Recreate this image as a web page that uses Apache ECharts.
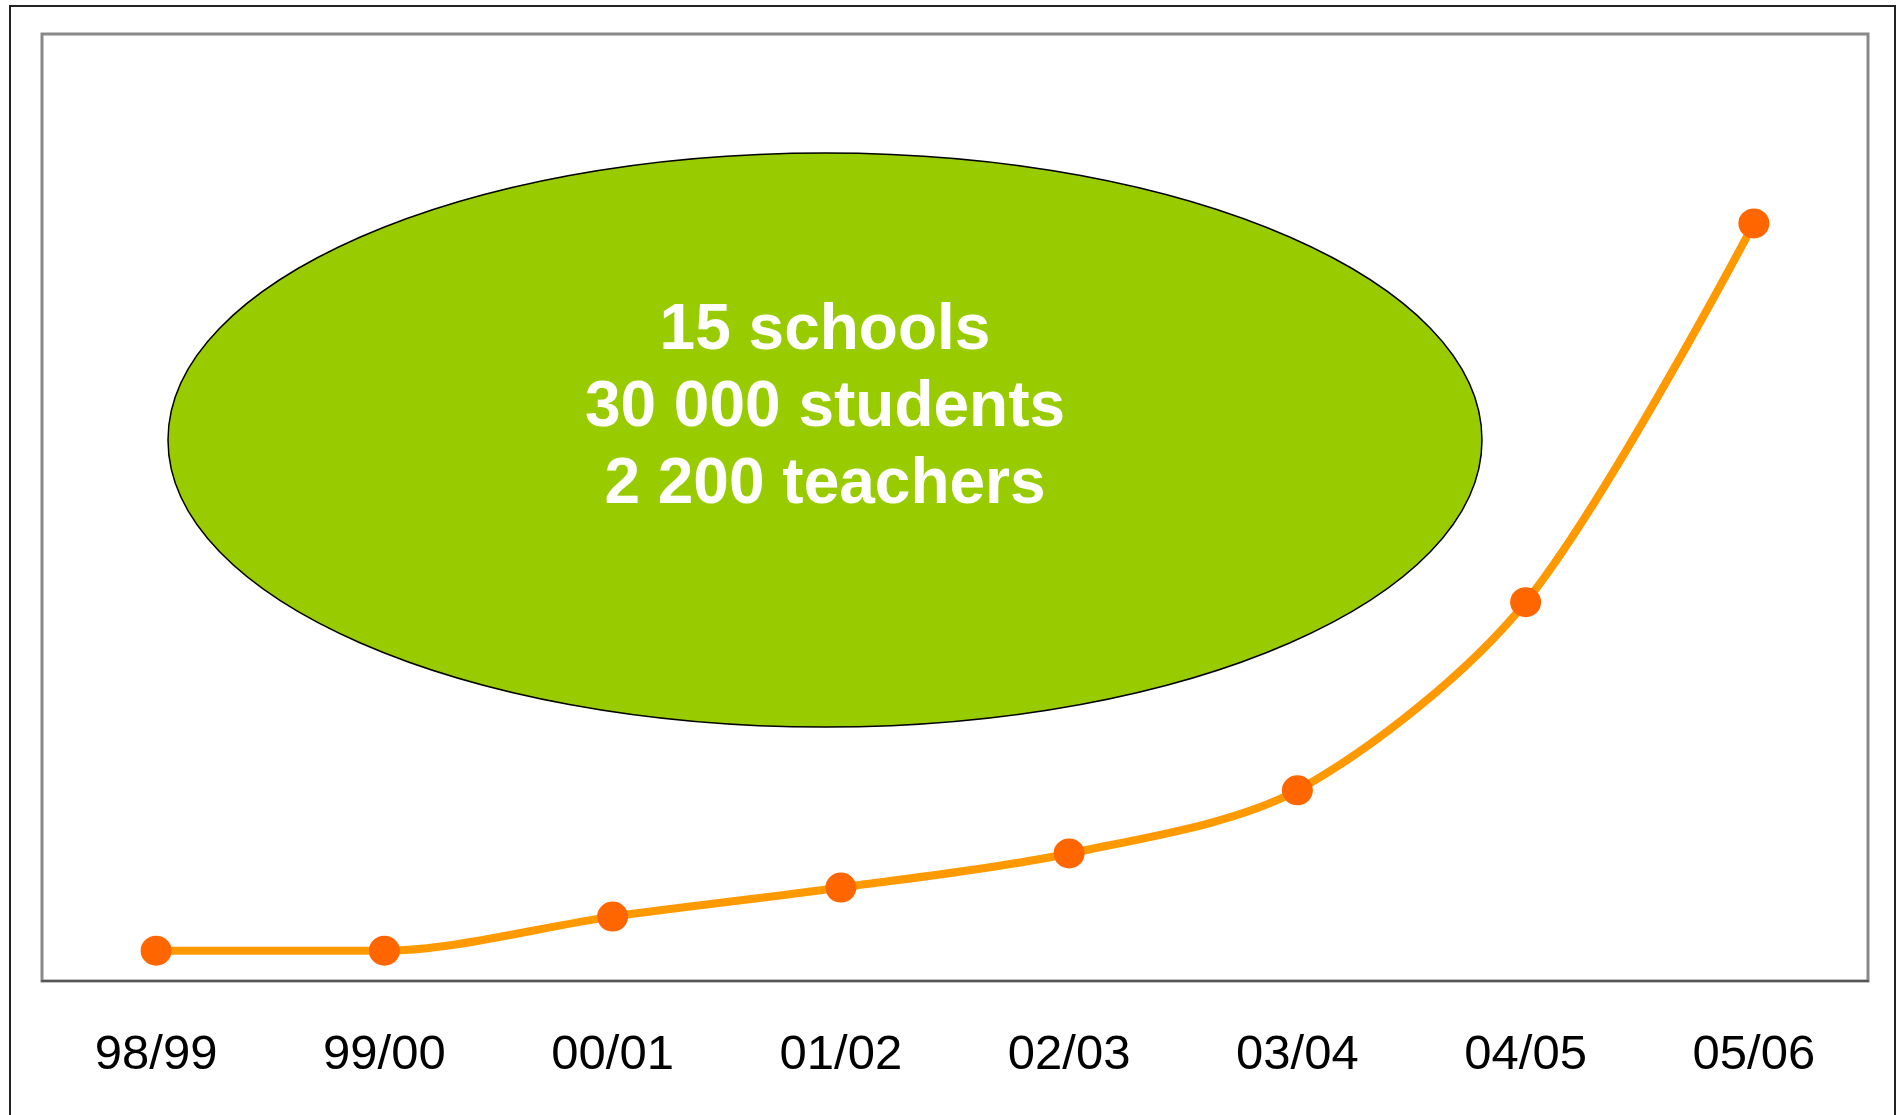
<!DOCTYPE html>
<html>
<head>
<meta charset="utf-8">
<title>Schools growth</title>
<script src="https://cdn.jsdelivr.net/npm/echarts@6/dist/echarts.min.js"></script>
<style>
  html, body { margin: 0; padding: 0; background: #fff; }
  #chart { width: 1902px; height: 1115px; }
</style>
</head>
<body>
<div id="chart"></div>
<script>
// school years on the x axis
const years = ['98/99', '99/00', '00/01', '01/02', '02/03', '03/04', '04/05', '05/06']
// (students, estimated)
const students = [1200, 1200, 2550, 3700, 5050, 7550, 15000, 30000]
// text in the green bubble
const bubbleLines = ['15 schools', '30 000 students', '2 200 teachers']

const chart = echarts.init(document.getElementById('chart'))

chart.setOption({
  animation: false,
  backgroundColor: '#fff',
  grid: {
    left: 42,
    right: 34,
    top: 34,
    bottom: 134,
    show: true,
    borderColor: '#888',
    borderWidth: 3,
    backgroundColor: 'transparent'
  },
  xAxis: {
    type: 'category',
    data: years,
    boundaryGap: true,
    axisLine: {
      lineStyle: { color: '#555', width: 2 }
    },
    axisTick: {
      length: 16,
      lineStyle: { color: '#333', width: 1 }
    },
    axisLabel: {
      color: '#000',
      fontFamily: '"Liberation Sans", Arial, sans-serif',
      fontSize: 49,
      margin: 50
    },
    splitLine: { show: false }
  },
  yAxis: {
    type: 'value',
    min: 0,
    max: 37500,
    show: false,
    splitLine: { show: false }
  },
  graphic: [
    {
      type: 'rect',
      silent: true,
      z: 0,
      shape: { x: 10, y: 6, width: 1885, height: 1130 },
      style: { fill: 'none', stroke: '#222', lineWidth: 2 }
    },
    {
      type: 'ellipse',
      silent: true,
      z: 1,
      shape: { cx: 825, cy: 440, rx: 657, ry: 287 },
      style: { fill: '#99CC00', stroke: '#000', lineWidth: 1.5 }
    },
    {
      type: 'text',
      silent: true,
      z: 2,
      x: 825,
      y: 408,
      style: {
        text: bubbleLines.join('\n'),
        fill: '#fff',
        font: 'bold 64px "Liberation Sans", Arial, sans-serif',
        lineHeight: 77,
        align: 'center',
        verticalAlign: 'middle'
      }
    }
  ],
  series: [
    {
      type: 'line',
      data: students,
      smooth: 0.3,
      z: 5,
      lineStyle: { color: '#FF9900', width: 8 },
      symbol: 'circle',
      symbolSize: [31, 30],
      itemStyle: { color: '#FF6600', borderWidth: 0 }
    }
  ]
})
</script>
</body>
</html>
